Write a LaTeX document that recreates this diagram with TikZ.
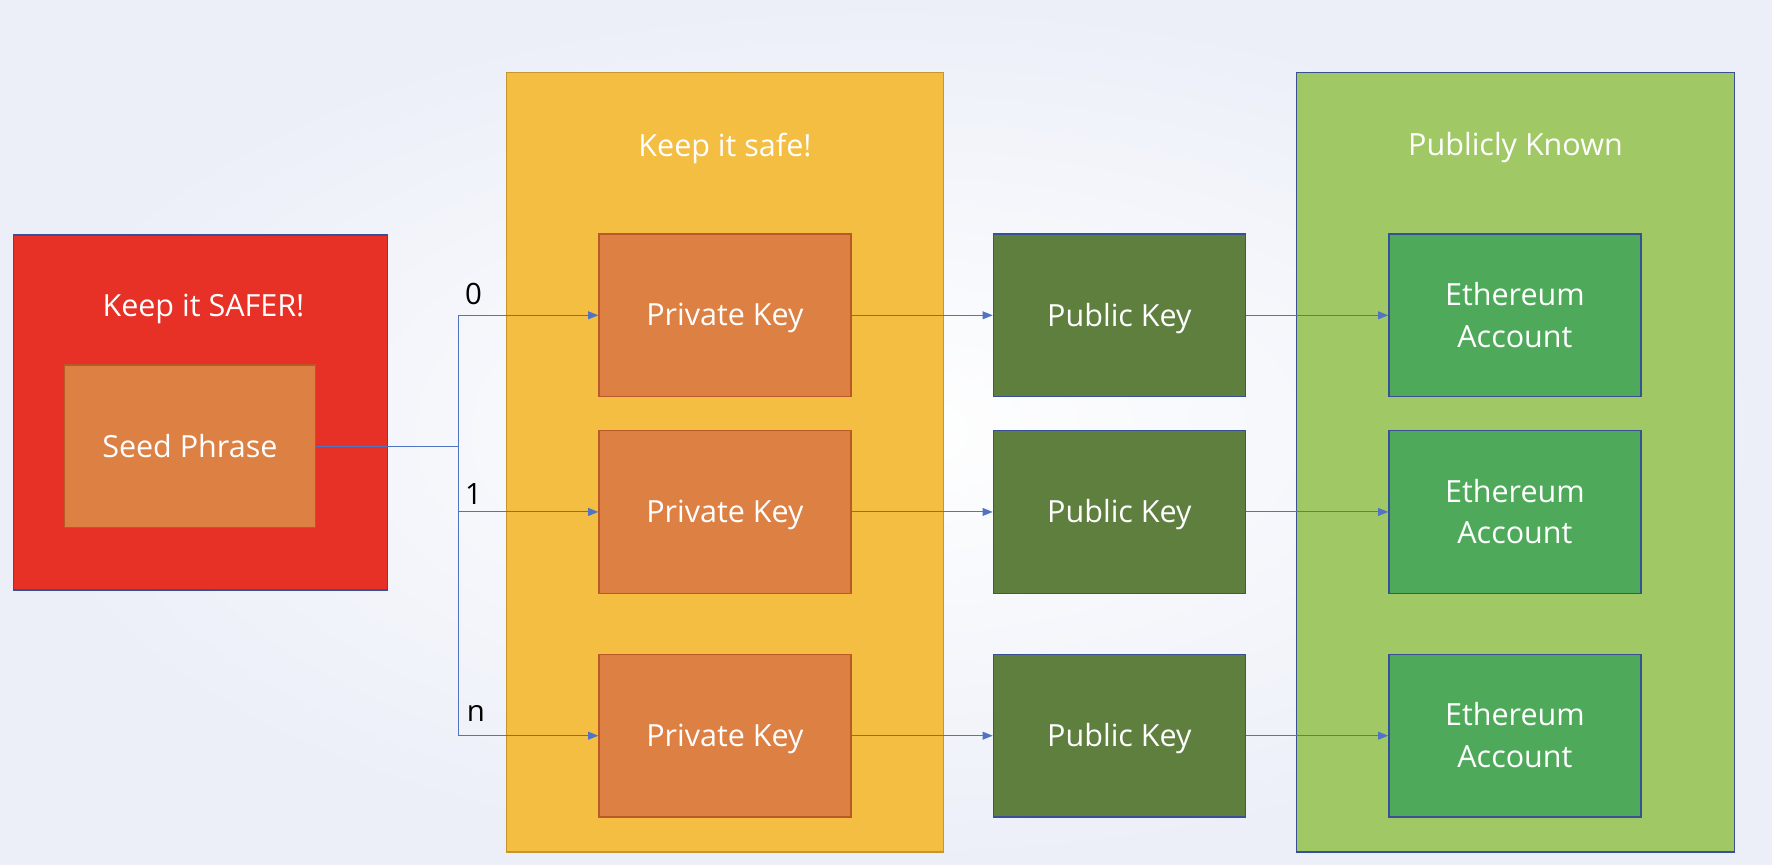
\documentclass[tikz,border=0pt]{standalone}
\usepackage{fontspec}
\setmainfont{Open Sans}
\usetikzlibrary{positioning,arrows.meta}
\definecolor{bgedge}{RGB}{236,239,248}
\definecolor{safer}{RGB}{232,49,38}
\definecolor{seedorange}{RGB}{221,128,67}
\definecolor{seedline}{RGB}{186,88,40}
\definecolor{safeyellow}{RGB}{243,190,65}
\definecolor{safeline}{RGB}{196,150,45}
\definecolor{pubgreen}{RGB}{95,127,63}
\definecolor{knowngreen}{RGB}{160,200,100}
\definecolor{ethgreen}{RGB}{78,170,90}
\definecolor{boxblue}{RGB}{55,80,150}
\definecolor{linkblue}{RGB}{80,115,195}

\begin{document}
\begin{tikzpicture}[x=1pt, y=-1pt,
    group/.style = {draw, line width=1.2pt, inner sep=0pt},
    key/.style = {draw, line width=1.2pt, minimum width=223pt, minimum height=144pt, text=white, font=\fontsize{27}{37}\selectfont, align=center, text depth=1pt},
    title/.style = {text=white, font=\fontsize{27}{37}\selectfont},
    link/.style = {draw=linkblue, line width=0.9pt},
    arrow/.style = {link, -{Triangle[length=9pt, width=7pt]}},
    idx/.style = {font=\fontsize{26}{32}\selectfont}]
    \shade[inner color=white, outer color=bgedge] (0,0) rectangle (1568,765);
    \useasboundingbox (0,0) rectangle (1568,765);
    \node[group, fill=safer, draw=boxblue, minimum width=331pt, minimum height=314pt] (red) at (177.5,365) {};
    \node[group, fill=safeyellow, draw=safeline, minimum width=387pt, minimum height=690pt] (yellow) at (641.5,409) {};
    \node[group, fill=knowngreen, draw=boxblue, minimum width=388pt, minimum height=690pt] (green) at (1341,409) {};
    \node[title] (t1) at (180,273) {Keep it SAFER!};
    \node[title] (t2) at (641.5,131) {Keep it safe!};
    \node[title] (t3) at (1341,131) {Publicly Known};
    \node[key, fill=seedorange, draw=seedline, minimum width=222pt] (seed) at (168,395) {Seed Phrase};
    \node[key, fill=seedorange, draw=seedline] (pk0) at (641.5,279) {Private Key};
    \node[key, fill=seedorange, draw=seedline] (pk1) at (641.5,453) {Private Key};
    \node[key, fill=seedorange, draw=seedline] (pkn) at (641.5,651) {Private Key};
    \node[key, fill=pubgreen, draw=boxblue] (pub0) at (990.5,279) {Public Key};
    \node[key, fill=pubgreen, draw=boxblue] (pub1) at (990.5,453) {Public Key};
    \node[key, fill=pubgreen, draw=boxblue] (pubn) at (990.5,651) {Public Key};
    \node[key, fill=ethgreen, draw=boxblue] (eth0) at (1340.5,279) {Ethereum\\Account};
    \node[key, fill=ethgreen, draw=boxblue] (eth1) at (1340.5,453) {Ethereum\\Account};
    \node[key, fill=ethgreen, draw=boxblue] (ethn) at (1340.5,651) {Ethereum\\Account};
    \coordinate (split) at (406,395);
    \draw[link] (seed.east) -- (split);
    \draw[arrow] (split) |- (pk0.west);
    \draw[arrow] (split) |- (pk1.west);
    \draw[arrow] (split) |- (pkn.west);
    \node[idx] (i0) at (419,260) {0};
    \node[idx] (i1) at (419,437) {1};
    \node[idx] (in) at (421,631) {n};
    \draw[arrow] (pk0) -- (pub0);
    \draw[arrow] (pk1) -- (pub1);
    \draw[arrow] (pkn) -- (pubn);
    \draw[arrow] (pub0) -- (eth0);
    \draw[arrow] (pub1) -- (eth1);
    \draw[arrow] (pubn) -- (ethn);
\end{tikzpicture}
\end{document}
